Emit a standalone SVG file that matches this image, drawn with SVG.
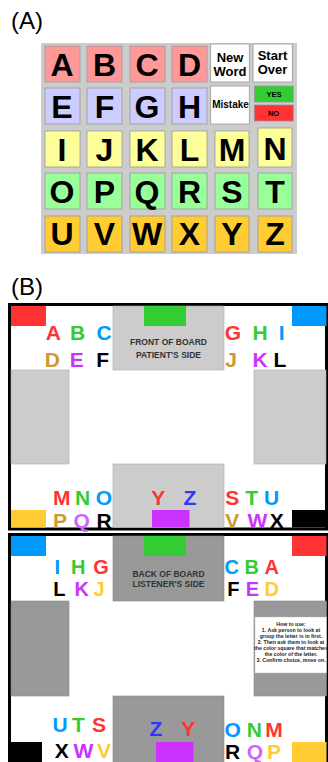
<svg xmlns="http://www.w3.org/2000/svg" width="328" height="762" viewBox="0 0 328 762">
<style>
.lbl{font-family:"Liberation Sans",Arial,sans-serif;font-size:24px;fill:#000}
.cell{stroke:#999;stroke-width:0.8}
.big{font-family:"Liberation Sans",Arial,sans-serif;font-weight:bold;font-size:32px;fill:#000;text-anchor:middle}
.btn{font-family:"Liberation Sans",Arial,sans-serif;font-weight:bold;fill:#000;text-anchor:middle}
.r1{fill:#FF9999}.r2{fill:#CCCCFF}.r3{fill:#FFFF99}.r4{fill:#99FF99}.r5{fill:#FFCC33}
.bl{font-family:"Liberation Sans",Arial,sans-serif;font-weight:bold;font-size:21px;text-anchor:middle}
.bs{font-size:20px}
.hd{font-family:"Liberation Sans",Arial,sans-serif;font-weight:bold;font-size:8.5px;fill:#333;text-anchor:middle}
.how{font-family:"Liberation Sans",Arial,sans-serif;font-weight:bold;font-size:5.2px;fill:#222;text-anchor:middle}
.rd{fill:#FF3333}.gn{fill:#33CC33}.sk{fill:#0099FF}.tn{fill:#CC9933}.pu{fill:#CC33FF}.pl{fill:#CC66FF}.bk{fill:#000}.ye{fill:#FFCC33}.bu{fill:#3333FF}
.g1{fill:#CCCCCC;stroke:#aaa;stroke-width:0.6}
.g2{fill:#999999;stroke:#888;stroke-width:0.6}
.frame{fill:#fff;stroke:#000;stroke-width:3}
</style>
<rect width="328" height="762" fill="#fff"/>
<text class="lbl" x="11" y="29">(A)</text>
<g id="panelA">
<rect x="41" y="43" width="256" height="211" fill="#CCCCCC"/>
<g id="row1">
<rect class="cell r1" x="45" y="46" width="35" height="36"/><text class="big" x="62" y="76">A</text>
<rect class="cell r1" x="87" y="46" width="35" height="36"/><text class="big" x="104.5" y="76">B</text>
<rect class="cell r1" x="130" y="46" width="35" height="36"/><text class="big" x="147" y="76">C</text>
<rect class="cell r1" x="172" y="46" width="35" height="36"/><text class="big" x="189.5" y="76">D</text>
<g id="newword"><rect class="cell" fill="#fff" x="210.7" y="44" width="38.6" height="38"/><text class="btn" font-size="13" x="230" y="61.5">New</text><text class="btn" font-size="13" x="230" y="75.5">Word</text></g>
<g id="startover"><rect class="cell" fill="#fff" x="253" y="44" width="39.3" height="38"/><text class="btn" font-size="13" x="272.5" y="60">Start</text><text class="btn" font-size="13" x="272.5" y="74.3">Over</text></g>
</g>
<g id="row2">
<rect class="cell r2" x="45" y="88" width="35" height="36"/><text class="big" x="62" y="118">E</text>
<rect class="cell r2" x="87" y="88" width="35" height="36"/><text class="big" x="104.5" y="118">F</text>
<rect class="cell r2" x="130" y="88" width="35" height="36"/><text class="big" x="147" y="118">G</text>
<rect class="cell r2" x="172" y="88" width="35" height="36"/><text class="big" x="189.5" y="118">H</text>
<g id="mistake"><rect class="cell" fill="#fff" x="210.7" y="86" width="38.6" height="38"/><text class="btn" font-size="10" x="230.5" y="107.7">Mistake</text></g>
<g id="yes"><rect class="cell" fill="#33CC33" x="254.3" y="86" width="39" height="16"/><text class="btn" font-size="7.5" x="274" y="96.5">YES</text></g>
<g id="no"><rect class="cell" fill="#FF3333" x="254.3" y="105" width="39" height="16"/><text class="btn" font-size="7.5" x="273.5" y="115.8">NO</text></g>
</g>
<g id="row3">
<rect class="cell r3" x="45" y="131" width="35" height="36"/><text class="big" x="62" y="161">I</text>
<rect class="cell r3" x="87" y="131" width="35" height="36"/><text class="big" x="104.5" y="161">J</text>
<rect class="cell r3" x="130" y="131" width="35" height="36"/><text class="big" x="147" y="161">K</text>
<rect class="cell r3" x="172" y="131" width="35" height="36"/><text class="big" x="189.5" y="161">L</text>
<rect class="cell r3" x="215" y="131" width="34" height="36"/><text class="big" x="232" y="161">M</text>
<rect class="cell r3" x="258" y="128" width="34" height="39"/><text class="big" x="275" y="160">N</text>
</g>
<g id="row4">
<rect class="cell r4" x="45" y="173" width="35" height="36"/><text class="big" x="62" y="203">O</text>
<rect class="cell r4" x="87" y="173" width="35" height="36"/><text class="big" x="104.5" y="203">P</text>
<rect class="cell r4" x="130" y="173" width="35" height="36"/><text class="big" x="147" y="203">Q</text>
<rect class="cell r4" x="172" y="173" width="35" height="36"/><text class="big" x="189.5" y="203">R</text>
<rect class="cell r4" x="215" y="173" width="34" height="36"/><text class="big" x="232" y="203">S</text>
<rect class="cell r4" x="258" y="173" width="34" height="36"/><text class="big" x="275" y="203">T</text>
</g>
<g id="row5">
<rect class="cell r5" x="45" y="216" width="35" height="36"/><text class="big" x="62" y="245">U</text>
<rect class="cell r5" x="87" y="216" width="35" height="36"/><text class="big" x="104.5" y="245">V</text>
<rect class="cell r5" x="130" y="216" width="35" height="36"/><text class="big" x="147" y="245">W</text>
<rect class="cell r5" x="172" y="216" width="35" height="36"/><text class="big" x="189.5" y="245">X</text>
<rect class="cell r5" x="215" y="216" width="34" height="36"/><text class="big" x="232" y="245">Y</text>
<rect class="cell r5" x="258" y="216" width="34" height="36"/><text class="big" x="275" y="245">Z</text>
</g>
</g>
<text class="lbl" x="11" y="295">(B)</text>
<g id="frontBoard">
<rect class="frame" x="9.5" y="304.5" width="317" height="224.5"/>
<rect class="g1" x="113" y="306" width="111" height="64"/>
<rect class="g1" x="11" y="370" width="58" height="94"/>
<rect class="g1" x="254" y="370" width="72" height="94"/>
<rect class="g1" x="113" y="464" width="111" height="63.5"/>
<rect fill="#FF3333" x="11" y="306" width="35" height="20"/>
<rect fill="#33CC33" x="144" y="306" width="42" height="20"/>
<rect fill="#0099FF" x="292" y="306" width="34.5" height="20"/>
<rect fill="#FFCC33" x="11" y="510" width="35" height="17.5"/>
<rect fill="#CC33FF" x="152" y="510" width="37.5" height="17.5"/>
<rect fill="#000" x="292" y="510" width="34.5" height="17.5"/>
<text class="hd" x="168.5" y="345">FRONT OF BOARD</text>
<text class="hd" x="168.5" y="357.5">PATIENT'S SIDE</text>
<text class="bl rd" x="53.3" y="340">A</text><text class="bl gn" x="77.7" y="340">B</text><text class="bl sk" x="104" y="340">C</text>
<text class="bl tn" x="52.3" y="366.5">D</text><text class="bl pu" x="76.7" y="366.5">E</text><text class="bl bk" x="102.7" y="366.5">F</text>
<text class="bl rd" x="233" y="340">G</text><text class="bl gn" x="260" y="340">H</text><text class="bl sk" x="281.7" y="340">I</text>
<text class="bl tn" x="231" y="366.5">J</text><text class="bl pu" x="260" y="366.5">K</text><text class="bl bk" x="280" y="366.5">L</text>
<text class="bl rd" x="61.7" y="505">M</text><text class="bl gn" x="82.7" y="505">N</text><text class="bl sk" x="104" y="505">O</text>
<text class="bl tn" x="60" y="527.5">P</text><text class="bl pl" x="81.7" y="527.5">Q</text><text class="bl bk" x="104" y="527.5">R</text>
<text class="bl rd" x="158.3" y="505">Y</text><text class="bl bu" x="190" y="505">Z</text>
<text class="bl rd" x="232.3" y="505">S</text><text class="bl gn" x="251.7" y="505">T</text><text class="bl sk" x="271.7" y="505">U</text>
<text class="bl tn" x="232.3" y="527.5">V</text><text class="bl pu" x="257.3" y="527.5">W</text><text class="bl bk" x="276.7" y="527.5">X</text>
</g>
<g id="backBoard">
<rect class="frame" x="9.5" y="534.5" width="317" height="232"/>
<rect class="g2" x="113" y="536" width="111" height="65"/>
<rect class="g2" x="11" y="601" width="58" height="95"/>
<rect class="g2" x="254" y="601" width="72.5" height="95"/>
<rect class="g2" x="113" y="696" width="111" height="70"/>
<rect fill="#0099FF" x="11" y="536" width="35" height="20"/>
<rect fill="#33CC33" x="144" y="536" width="42" height="20"/>
<rect fill="#FF3333" x="292" y="536" width="34.5" height="20"/>
<rect fill="#000" x="8" y="742" width="34" height="20"/>
<rect fill="#CC33FF" x="156" y="742" width="37.5" height="20"/>
<rect fill="#FFCC33" x="292" y="742" width="34.5" height="20"/>
<text class="hd" font-size="9.5" x="168.5" y="576.5">BACK OF BOARD</text>
<text class="hd" font-size="9.5" x="168.5" y="587">LISTENER'S SIDE</text>
<text class="bl bs sk" x="57.3" y="574">I</text><text class="bl bs gn" x="78.3" y="574">H</text><text class="bl bs rd" x="101" y="574">G</text>
<text class="bl bs bk" x="59.3" y="596">L</text><text class="bl bs pu" x="81.7" y="596">K</text><text class="bl bs ye" x="99" y="596">J</text>
<text class="bl bs sk" x="231.7" y="574">C</text><text class="bl bs gn" x="251.7" y="574">B</text><text class="bl bs rd" x="271.7" y="574">A</text>
<text class="bl bs bk" x="233.3" y="596">F</text><text class="bl bs pu" x="252.3" y="596">E</text><text class="bl bs ye" x="271.7" y="596">D</text>
<text class="bl sk" x="60" y="731.7">U</text><text class="bl gn" x="78.3" y="731.7">T</text><text class="bl rd" x="99" y="731.7">S</text>
<text class="bl bk" x="61.7" y="758.3">X</text><text class="bl pu" x="83.3" y="758.3">W</text><text class="bl ye" x="104" y="758.3">V</text>
<text class="bl bu" x="156" y="736">Z</text><text class="bl rd" x="188.3" y="736">Y</text>
<text class="bl sk" x="232.7" y="736.5">O</text><text class="bl gn" x="254.3" y="736.5">N</text><text class="bl rd" x="274" y="736.5">M</text>
<text class="bl bk" x="232.7" y="759.3">R</text><text class="bl pl" x="255" y="759.3">Q</text><text class="bl ye" x="274" y="759.3">P</text>
<g id="howto">
<rect fill="#fff" stroke="#bbb" stroke-width="0.4" x="255" y="617" width="71.5" height="56"/>
<text class="how" x="291" y="626">How to use:</text>
<text class="how" x="291" y="632">1. Ask person to look at</text>
<text class="how" x="291" y="638">group the letter is in first.</text>
<text class="how" x="291" y="644">2.  Then ask them to look at</text>
<text class="how" x="291" y="650">the color square that matches</text>
<text class="how" x="291" y="656">the color of the letter.</text>
<text class="how" x="291" y="662">3.  Confirm choice, move on.</text>
</g>
</g>
</svg>
